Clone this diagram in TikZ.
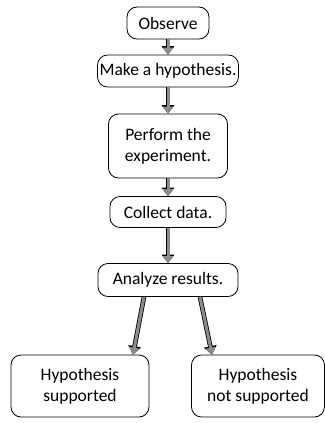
\documentclass[tikz,border=0pt]{standalone}
\usepackage{fontspec}
\setmainfont{Carlito}
\usepackage{tikz}
\usetikzlibrary{arrows.meta}

\begin{document}
\begin{tikzpicture}[x=1pt, y=-1pt, font=\fontsize{17.5}{21}\selectfont,
  stepbox/.style={draw, rounded corners=10pt, line width=0.8pt, align=center, inner xsep=2pt, inner ysep=2pt},
  fat/.style={-{Triangle[length=7pt, width=10pt]}, line width=3pt, draw=black!45,
    preaction={draw=black, line width=4.6pt, -{Triangle[length=8.5pt, width=12.5pt]}}}]
  \useasboundingbox (0,0) rectangle (324,423);
  \node[stepbox, minimum width=82pt, minimum height=32pt] (obs) at (168,23) {Observe};
  \node[stepbox, minimum width=137pt, minimum height=32pt] (hyp) at (168,71) {Make a hypothesis.};
  \node[stepbox, minimum width=119pt, minimum height=64pt] (exp) at (168,146) {Perform the\\experiment.};
  \node[stepbox, minimum width=116pt, minimum height=31pt] (col) at (168,212) {Collect data.};
  \node[stepbox, minimum width=140pt, minimum height=33pt] (ana) at (168,280) {Analyze results.};
  \node[stepbox, minimum width=138pt, minimum height=62pt] (yes) at (80,386) {Hypothesis\\supported};
  \node[stepbox, minimum width=133pt, minimum height=62pt] (no) at (258,386) {Hypothesis\\not supported};
  \draw[fat] (obs) -- (hyp);
  \draw[fat] (hyp) -- (exp);
  \draw[fat] (exp) -- (col);
  \draw[fat] (col) -- (ana);
  \draw[fat] (ana.south) ++(-24,0) coordinate (al) (al) -- (yes.north -| 133,0);
  \draw[fat] (ana.south) ++(32,0) coordinate (ar) (ar) -- (no.north -| 212,0);
\end{tikzpicture}
\end{document}
